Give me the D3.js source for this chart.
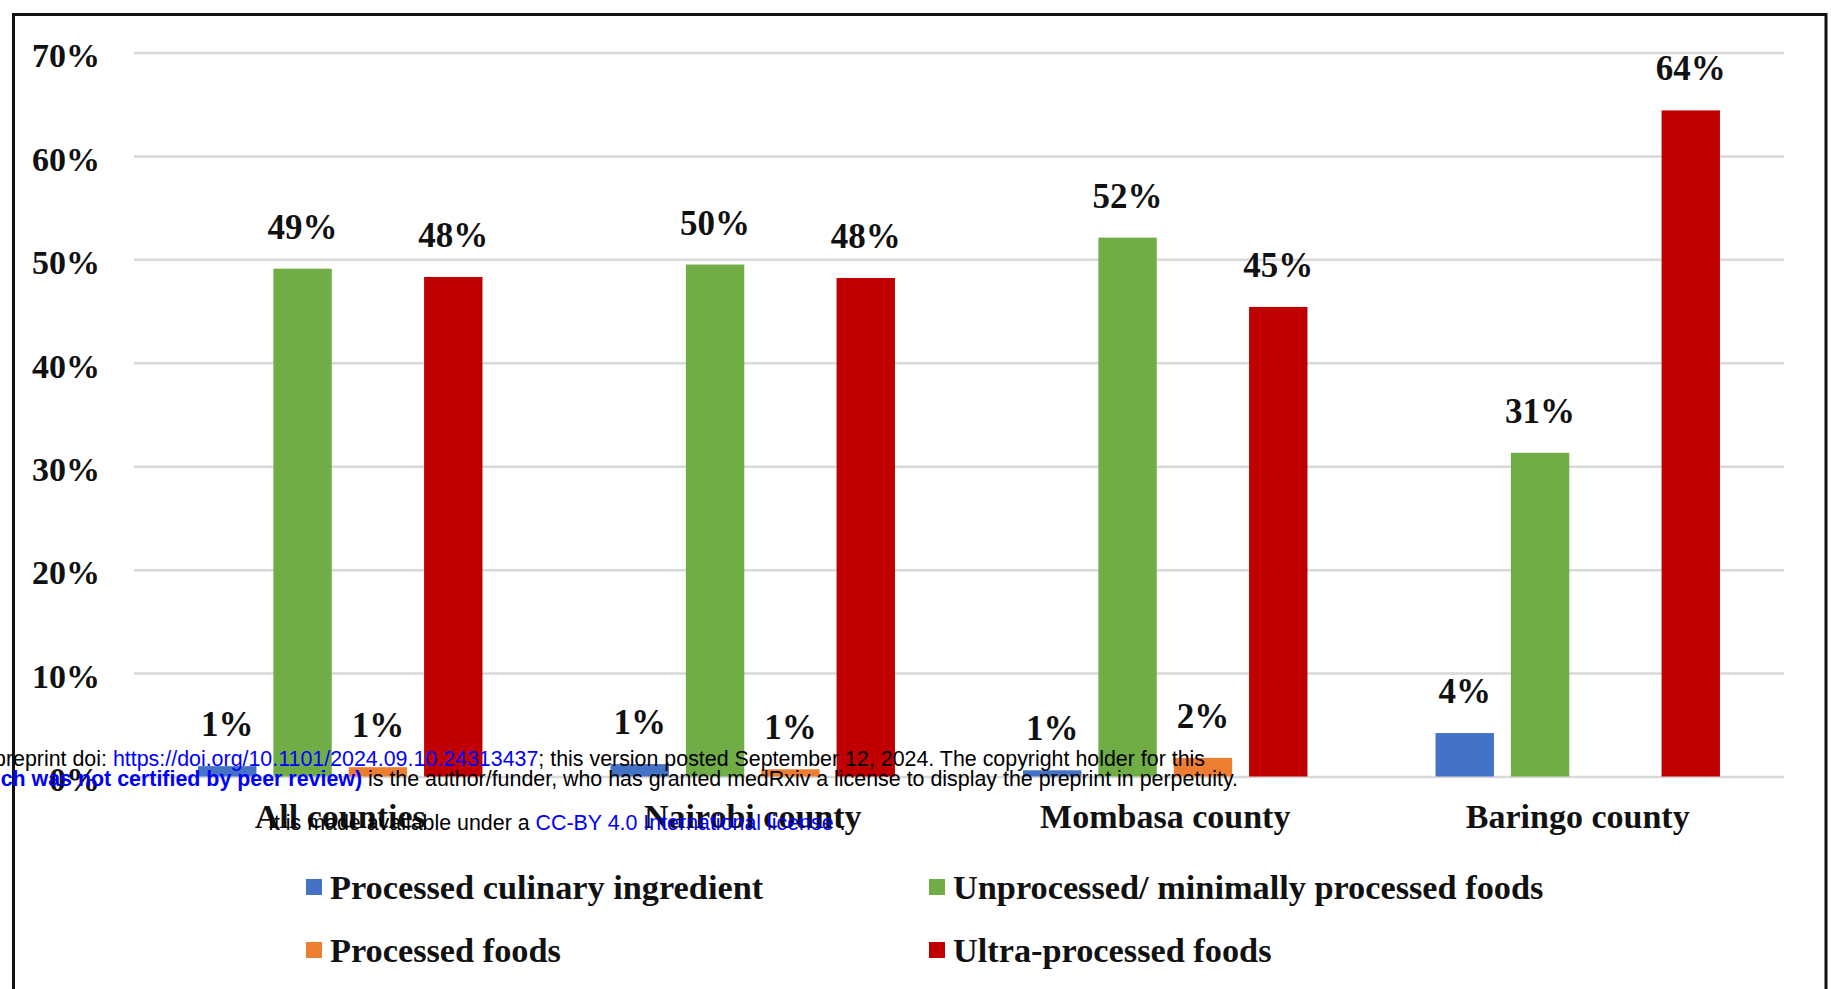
<!DOCTYPE html>
<html>
<head>
<meta charset="utf-8">
<script src="https://cdn.jsdelivr.net/npm/d3@7"></script>
<style>
  html, body { margin: 0; padding: 0; background: #fff; }
  svg { display: block; }
</style>
</head>
<body>
<svg id="chart" width="1831" height="989"></svg>
<script>
// ---- data ----
const categories = ["All counties", "Nairobi county", "Mombasa county", "Baringo county"];
const seriesNames = ["Processed culinary ingredient", "Unprocessed/ minimally processed foods", "Processed foods", "Ultra-processed foods"];
const culinary    = [1.0, 1.2, 0.6, 4.2];
const unprocessed = [49.1, 49.5, 52.1, 31.3];
const processed   = [0.9, 0.7, 1.8, 0];
const ultra       = [48.3, 48.2, 45.4, 64.4];
const culinaryLabels    = ["1%", "1%", "1%", "4%"];
const unprocessedLabels = ["49%", "50%", "52%", "31%"];
const processedLabels   = ["1%", "1%", "2%", ""];
const ultraLabels       = ["48%", "48%", "45%", "64%"];
const yTicks = [0, 10, 20, 30, 40, 50, 60, 70];
const colors = ["#4472C4", "#70AD47", "#ED7D31", "#C00000"];

(function () {
const seriesValues = [culinary, unprocessed, processed, ultra];
const seriesLabels = [culinaryLabels, unprocessedLabels, processedLabels, ultraLabels];

const svg = d3.select("#chart");
const serif = "'Liberation Serif', 'Times New Roman', serif";
const sans = "'Liberation Sans', Arial, Helvetica, sans-serif";

svg.append("rect").attr("x", 0).attr("y", 0).attr("width", 1831).attr("height", 989).attr("fill", "#fff");

// frame
svg.append("path")
  .attr("d", "M13.5,1000 L13.5,14.5 L1826,14.5 L1826,1000")
  .attr("fill", "none").attr("stroke", "#111").attr("stroke-width", 3);

const plotLeft = 134, plotRight = 1784, plotTop = 52.5, plotBottom = 776.5;

const x = d3.scaleBand().domain(categories).range([plotLeft, plotRight]).padding(0);
const xs = d3.scaleBand().domain(seriesNames).range([0, x.bandwidth()])
  .paddingInner(0.225).paddingOuter(0.85).align(0.5);
const y = d3.scaleLinear().domain([0, 70]).range([plotBottom, plotTop]);

// gridlines + y labels
const yAxis = svg.append("g").attr("transform", `translate(${plotLeft},0)`)
  .call(d3.axisLeft(y).tickValues(yTicks).tickSize(-(plotRight - plotLeft)).tickPadding(34).tickFormat(d => d + "%"));
yAxis.select(".domain").remove();
yAxis.selectAll(".tick line").attr("stroke", "#d9d9d9").attr("stroke-width", 2.5);
yAxis.selectAll(".tick text")
  .attr("font-family", serif).attr("font-weight", "bold").attr("font-size", 34)
  .attr("fill", "#111").attr("dy", "0.42em");

// x axis labels
const xAxis = svg.append("g").attr("transform", `translate(0,${plotBottom})`)
  .call(d3.axisBottom(x).tickSize(0).tickPadding(27));
xAxis.select(".domain").remove();
xAxis.selectAll(".tick text")
  .attr("font-family", serif).attr("font-weight", "bold").attr("font-size", 34).attr("fill", "#111");

// bars
const rows = [];
categories.forEach((c, i) => {
  seriesNames.forEach((s, j) => {
    rows.push({ cat: c, series: s, value: seriesValues[j][i], label: seriesLabels[j][i], color: colors[j] });
  });
});

const bars = svg.append("g");
bars.selectAll("rect").data(rows).join("rect")
  .attr("x", d => x(d.cat) + xs(d.series))
  .attr("y", d => y(d.value))
  .attr("width", xs.bandwidth())
  .attr("height", d => y(0) - y(d.value))
  .attr("fill", d => d.color);

bars.selectAll("text").data(rows.filter(d => d.label)).join("text")
  .attr("x", d => x(d.cat) + xs(d.series) + xs.bandwidth() / 2)
  .attr("y", d => y(d.value) - 30)
  .attr("text-anchor", "middle")
  .attr("font-family", serif).attr("font-weight", "bold").attr("font-size", 35).attr("fill", "#111")
  .text(d => d.label);

// legend
const legendPos = [[306, 887], [929, 887], [306, 950], [929, 950]];
const legend = svg.append("g");
const items = legend.selectAll("g").data(seriesNames).join("g")
  .attr("transform", (d, i) => `translate(${legendPos[i][0]},${legendPos[i][1]})`);
items.append("rect").attr("x", 0).attr("y", -8).attr("width", 16).attr("height", 16)
  .attr("fill", (d, i) => colors[i]);
items.append("text").attr("x", 24).attr("y", 0).attr("dy", "0.34em")
  .attr("font-family", serif).attr("font-weight", "bold").attr("font-size", 34.3).attr("fill", "#111")
  .text(d => d);

// medRxiv overlay text
const ov = svg.append("g").attr("font-family", sans).attr("font-size", 21.4);
const l1 = ov.append("text").attr("x", 1205).attr("y", 766).attr("text-anchor", "end");
l1.append("tspan").attr("fill", "#000").text("medRxiv preprint doi: ");
l1.append("tspan").attr("fill", "#0000ff").text("https://doi.org/10.1101/2024.09.10.24313437");
l1.append("tspan").attr("fill", "#000").text("; this version posted September 12, 2024. The copyright holder for this");

const l2 = ov.append("text").attr("x", 1238).attr("y", 786).attr("text-anchor", "end");
l2.append("tspan").attr("fill", "#0000ff").attr("font-weight", "bold").text("(which was not certified by peer review)");
l2.append("tspan").attr("fill", "#000").text(" is the author/funder, who has granted medRxiv a license to display the preprint in perpetuity.");

const l3 = ov.append("text").attr("x", 268).attr("y", 830);
l3.append("tspan").attr("fill", "#000").text("It is made available under a ");
l3.append("tspan").attr("fill", "#0000ff").text("CC-BY 4.0 International license");
l3.append("tspan").attr("fill", "#000").text(" .");
})();
</script>
</body>
</html>
